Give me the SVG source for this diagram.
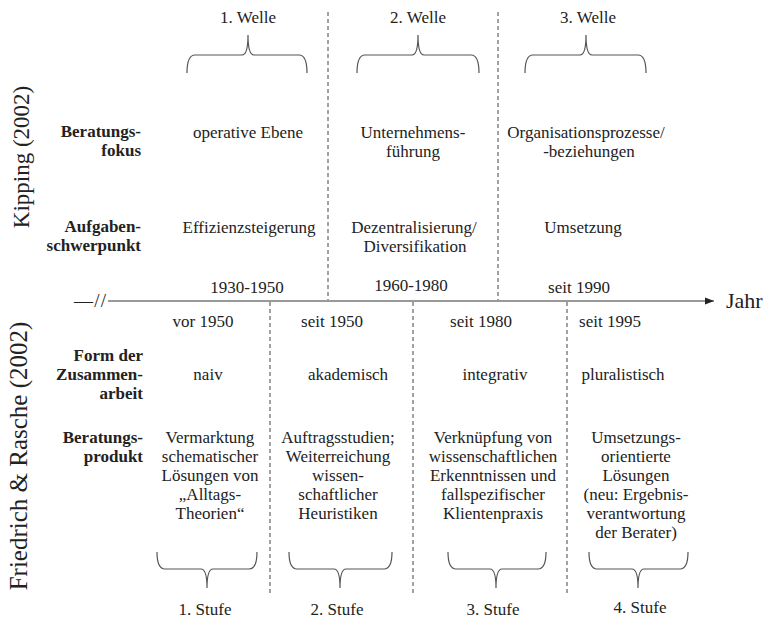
<svg xmlns="http://www.w3.org/2000/svg" width="772" height="620" viewBox="0 0 772 620">
<defs>
<style>
text{font-family:"Liberation Serif","Times New Roman",serif;fill:#222;font-size:17px}
.m{text-anchor:middle}
.b{font-weight:bold;text-anchor:end}
.big{font-size:23px}
.dash{stroke:#444;stroke-width:1;stroke-dasharray:4,3;fill:none}
.brace{stroke:#555;stroke-width:1.2;fill:none}
.axis{stroke:#777;stroke-width:1.5;fill:none}
</style>
<marker id="arr" markerWidth="10" markerHeight="8" refX="9" refY="4" orient="auto" markerUnits="userSpaceOnUse">
<path d="M0,0.5 L9,4 L0,7.5 Z" fill="#222"/>
</marker>
</defs>
<rect width="772" height="620" fill="#fff"/>

<g id="connectors">
<line class="axis" x1="108" y1="301" x2="714" y2="301" marker-end="url(#arr)"/>
<line class="dash" x1="328" y1="12" x2="328" y2="300"/>
<line class="dash" x1="498" y1="12" x2="498" y2="300"/>
<line class="dash" x1="270" y1="302" x2="270" y2="593"/>
<line class="dash" x1="413" y1="302" x2="413" y2="593"/>
<line class="dash" x1="567" y1="302" x2="567" y2="593"/>
<path class="brace" d="M187,73 Q187,55 195,55 L242,55 Q248,55 248,35 Q248,55 254,55 L299,55 Q307,55 307,73"/>
<path class="brace" d="M357,73 Q357,55 365,55 L412,55 Q418,55 418,35 Q418,55 424,55 L471,55 Q479,55 479,73"/>
<path class="brace" d="M525,73 Q525,55 533,55 L580,55 Q586,55 586,35 Q586,55 592,55 L638,55 Q646,55 646,73"/>
<path class="brace" d="M157,552 Q157,569 165,569 L201,569 Q207,569 207,588 Q207,569 213,569 L249,569 Q257,569 257,552"/>
<path class="brace" d="M289,552 Q289,569 297,569 L334,569 Q340,569 340,588 Q340,569 346,569 L384,569 Q392,569 392,552"/>
<path class="brace" d="M448,552 Q448,569 456,569 L490,569 Q496,569 496,588 Q496,569 502,569 L538,569 Q546,569 546,552"/>
<path class="brace" d="M589,552 Q589,569 597,569 L632,569 Q638,569 638,588 Q638,569 644,569 L680,569 Q688,569 688,552"/>
</g>

<g id="axis-labels">
<text x="74" y="307" style="font-size:19px" textLength="32" lengthAdjust="spacing">—//</text>
<text x="726" y="308" style="font-size:22px">Jahr</text>
</g>

<g id="kipping-title">
<text class="m big" transform="translate(29,157) rotate(-90)">Kipping (2002)</text>
</g>
<g id="friedrich-title">
<text class="m" style="font-size:25px" transform="translate(27,456) rotate(-90)">Friedrich &amp; Rasche (2002)</text>
</g>

<g id="row-labels-top">
<text class="b" x="141" y="137">Beratungs-</text>
<text class="b" x="141" y="156">fokus</text>
<text class="b" x="141" y="232">Aufgaben-</text>
<text class="b" x="141" y="251">schwerpunkt</text>
</g>

<g id="welle-1">
<text class="m" x="248" y="23">1. Welle</text>
<text class="m" x="248" y="138">operative Ebene</text>
<text class="m" x="249" y="233">Effizienzsteigerung</text>
<text class="m" x="247" y="293">1930-1950</text>
</g>
<g id="welle-2">
<text class="m" x="418" y="23">2. Welle</text>
<text class="m" x="413" y="138">Unternehmens-</text>
<text class="m" x="413" y="157">führung</text>
<text class="m" x="414" y="233">Dezentralisierung/</text>
<text class="m" x="415" y="252">Diversifikation</text>
<text class="m" x="411" y="291">1960-1980</text>
</g>
<g id="welle-3">
<text class="m" x="588" y="23">3. Welle</text>
<text class="m" x="586" y="138">Organisationsprozesse/</text>
<text class="m" x="589" y="157">-beziehungen</text>
<text class="m" x="583" y="233">Umsetzung</text>
<text class="m" x="579" y="293">seit 1990</text>
</g>

<g id="row-labels-bottom">
<text class="b" x="143" y="361">Form der</text>
<text class="b" x="143" y="380">Zusammen-</text>
<text class="b" x="143" y="399">arbeit</text>
<text class="b" x="143" y="443">Beratungs-</text>
<text class="b" x="143" y="462">produkt</text>
</g>

<g id="stufe-1">
<text class="m" x="203" y="327">vor 1950</text>
<text class="m" x="208" y="380">naiv</text>
<text class="m" x="210" y="443">Vermarktung</text>
<text class="m" x="210" y="462">schematischer</text>
<text class="m" x="210" y="481">Lösungen von</text>
<text class="m" x="210" y="500">„Alltags-</text>
<text class="m" x="210" y="519">Theorien“</text>
<text class="m" x="205" y="615">1. Stufe</text>
</g>
<g id="stufe-2">
<text class="m" x="332" y="327">seit 1950</text>
<text class="m" x="348" y="380">akademisch</text>
<text class="m" x="338" y="443">Auftragsstudien;</text>
<text class="m" x="338" y="462">Weiterreichung</text>
<text class="m" x="338" y="481">wissen-</text>
<text class="m" x="338" y="500">schaftlicher</text>
<text class="m" x="338" y="519">Heuristiken</text>
<text class="m" x="337" y="615">2. Stufe</text>
</g>
<g id="stufe-3">
<text class="m" x="481" y="327">seit 1980</text>
<text class="m" x="495" y="380">integrativ</text>
<text class="m" x="493" y="443">Verknüpfung von</text>
<text class="m" x="493" y="462">wissenschaftlichen</text>
<text class="m" x="493" y="481">Erkenntnissen und</text>
<text class="m" x="493" y="500">fallspezifischer</text>
<text class="m" x="493" y="519">Klientenpraxis</text>
<text class="m" x="493" y="615">3. Stufe</text>
</g>
<g id="stufe-4">
<text class="m" x="610" y="327">seit 1995</text>
<text class="m" x="623" y="380">pluralistisch</text>
<text class="m" x="636" y="443">Umsetzungs-</text>
<text class="m" x="636" y="462">orientierte</text>
<text class="m" x="636" y="481">Lösungen</text>
<text class="m" x="636" y="500">(neu: Ergebnis-</text>
<text class="m" x="636" y="519">verantwortung</text>
<text class="m" x="636" y="538">der Berater)</text>
<text class="m" x="640" y="613">4. Stufe</text>
</g>
</svg>
